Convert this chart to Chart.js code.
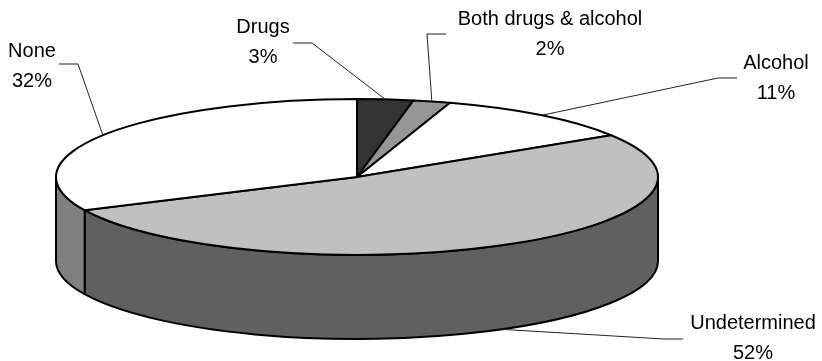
<!DOCTYPE html>
<html>
<head>
<meta charset="utf-8">
<script src="https://cdn.jsdelivr.net/npm/chart.js@4.4.1/dist/chart.umd.min.js"></script>
<style>
    html, body { margin: 0; padding: 0; background: #ffffff; }
    #wrap { width: 822px; height: 361px; position: relative; }
</style>
</head>
<body>
<div id="wrap"><canvas id="pieChart"></canvas></div>
<script>
// categories and their shares (%)
const categories = ['Drugs', 'Both drugs & alcohol', 'Alcohol', 'Undetermined', 'None'];
const shares = [3, 2, 11, 52, 32];

// face colours (top) and wall colours (side)
const topColors = ['#333333', '#969696', '#ffffff', '#c0c0c0', '#ffffff'];
const sideColors = ['#1a1a1a', '#4b4b4b', '#808080', '#606060', '#808080'];

// where each label sits and where its leader line bends
const labelPos = [
    { x: 263, y: 33, elbow: [[293, 43], [312, 43]] },
    { x: 550, y: 25, elbow: [[446, 34], [427, 34]] },
    { x: 776, y: 69, elbow: [[737, 78], [718, 78]] },
    { x: 753, y: 329, elbow: [[683, 339], [664, 339]] },
    { x: 32, y: 57, elbow: [[59, 64], [78, 64]] }
];

// tilted disc geometry
const disc = { cx: 357, cy: 177, rx: 301, ry: 78, depth: 84 };

const pie3d = {
    id: 'pie3d',
    beforeDatasetsDraw() {
        return false; // flat arcs are replaced by the tilted disc below
    },
    afterDraw(chart) {
        const ctx = chart.ctx;
        const arcs = chart.getDatasetMeta(0).data;
        const { cx, cy, rx, ry, depth } = disc;
        ctx.save();
        ctx.lineJoin = 'round';
        ctx.strokeStyle = '#000000';

        // outer walls, only the front half shows
        arcs.forEach((arc, i) => {
            const a = Math.max(arc.startAngle, 0);
            const b = Math.min(arc.endAngle, Math.PI);
            // angles past a full turn wrap back to the front
            const segs = [[a, b]];
            if (arc.endAngle > 2 * Math.PI) {
                segs.push([2 * Math.PI, Math.min(arc.endAngle, 3 * Math.PI)]);
            }
            segs.forEach(([s, e]) => {
                if (e <= s) return;
                ctx.beginPath();
                ctx.ellipse(cx, cy, rx, ry, 0, s, e);
                ctx.lineTo(cx + rx * Math.cos(e), cy + depth + ry * Math.sin(e));
                ctx.ellipse(cx, cy + depth, rx, ry, 0, e, s, true);
                ctx.closePath();
                ctx.fillStyle = sideColors[i];
                ctx.fill();
                ctx.lineWidth = 2;
                ctx.stroke();
            });
        });

        // top faces
        arcs.forEach((arc, i) => {
            ctx.beginPath();
            ctx.moveTo(cx, cy);
            ctx.ellipse(cx, cy, rx, ry, 0, arc.startAngle, arc.endAngle);
            ctx.closePath();
            ctx.fillStyle = topColors[i];
            ctx.fill();
            ctx.lineWidth = 2;
            ctx.stroke();
        });

        // leader lines and labels
        const total = shares.reduce((s, v) => s + v, 0);
        ctx.font = '20px "Liberation Sans", Arial, sans-serif';
        ctx.textAlign = 'center';
        ctx.textBaseline = 'alphabetic';
        arcs.forEach((arc, i) => {
            const mid = (arc.startAngle + arc.endAngle) / 2;
            const front = Math.sin(mid) > 0;
            const ax = cx + rx * Math.cos(mid);
            const ay = (front ? cy + depth : cy) + ry * Math.sin(mid);
            const lp = labelPos[i];

            ctx.beginPath();
            ctx.moveTo(lp.elbow[0][0], lp.elbow[0][1]);
            ctx.lineTo(lp.elbow[1][0], lp.elbow[1][1]);
            ctx.lineTo(ax, ay);
            ctx.lineWidth = 1;
            ctx.strokeStyle = '#222222';
            ctx.stroke();

            ctx.fillStyle = '#000000';
            ctx.fillText(categories[i], lp.x, lp.y);
            ctx.fillText(Math.round(shares[i] / total * 100) + '%', lp.x, lp.y + 30);
        });
        ctx.restore();
    }
};

new Chart(document.getElementById('pieChart'), {
    type: 'pie',
    data: {
        labels: categories,
        datasets: [{
            data: shares,
            backgroundColor: topColors,
            borderColor: '#000000',
            borderWidth: 1
        }]
    },
    options: {
        responsive: true,
        maintainAspectRatio: false,
        animation: false,
        rotation: 0,
        plugins: {
            legend: { display: false },
            tooltip: { enabled: false }
        }
    },
    plugins: [pie3d]
});
</script>
</body>
</html>
